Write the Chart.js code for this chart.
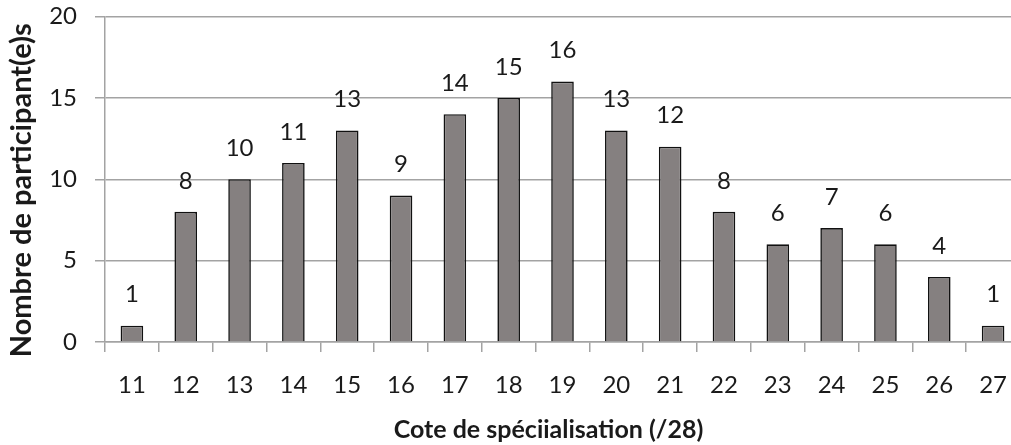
<!DOCTYPE html>
<html>
<head>
<meta charset="utf-8">
<script src="https://cdn.jsdelivr.net/npm/chart.js@4"></script>
<style>
  html, body { margin: 0; padding: 0; background: #fff; overflow: hidden; }
  #wrap { width: 1025px; height: 445px; }
</style>
</head>
<body>
<div id="wrap"><canvas id="c" width="1025" height="445"></canvas></div>
<script>
// Scores (x categories) and number of participants per score
const categories = ['11','12','13','14','15','16','17','18','19','20','21','22','23','24','25','26','27'];
const participants = [1, 8, 10, 11, 13, 9, 14, 15, 16, 13, 12, 8, 6, 7, 6, 4, 1];
const yTicks = [0, 5, 10, 15, 20];
const xTitle = 'Cote de spéciialisation (/28)';
const yTitle = 'Nombre de participant(e)s';

const FONT = 'Lato, "Open Sans", sans-serif';
const TEXT = '#1a1a1a';
const GRID = '#a3a3a3';

// Writes each bar's value above it
const valueLabels = {
  id: 'valueLabels',
  afterDatasetsDraw(chart) {
    const ctx = chart.ctx;
    const meta = chart.getDatasetMeta(0);
    const data = chart.data.datasets[0].data;
    ctx.save();
    ctx.font = '24px ' + FONT;
    ctx.fillStyle = TEXT;
    ctx.textAlign = 'center';
    ctx.textBaseline = 'middle';
    meta.data.forEach((bar, i) => {
      ctx.fillText(String(data[i]), bar.x, bar.y - 31);
    });
    ctx.restore();
  }
};

// Axis titles: rotated y title at the left edge, x title under the tick labels
const axisTitles = {
  id: 'axisTitles',
  afterDraw(chart) {
    const ctx = chart.ctx;
    const area = chart.chartArea;
    ctx.save();
    ctx.fillStyle = TEXT;
    ctx.textAlign = 'center';

    ctx.font = 'bold 25px ' + FONT;
    ctx.textBaseline = 'alphabetic';
    ctx.fillText(xTitle, (area.left + area.right) / 2 - 14, 438);

    ctx.translate(22, (area.top + area.bottom) / 2 + 11);
    ctx.rotate(-Math.PI / 2);
    ctx.font = 'bold 29px ' + FONT;
    ctx.textBaseline = 'middle';
    ctx.fillText(yTitle, 0, 0);
    ctx.restore();
  }
};

new Chart(document.getElementById('c'), {
  type: 'bar',
  data: {
    labels: categories,
    datasets: [{
      data: participants,
      backgroundColor: '#858080',
      borderColor: '#111111',
      borderWidth: 1.6,
      borderSkipped: 'bottom',
      categoryPercentage: 1,
      barPercentage: 0.42
    }]
  },
  options: {
    responsive: false,
    animation: false,
    layout: { autoPadding: false, padding: { top: 16.5, right: 5, left: 0, bottom: 0 } },
    plugins: {
      legend: { display: false },
      tooltip: { enabled: false }
    },
    scales: {
      x: {
        grid: {
          display: true,
          offset: true,
          drawOnChartArea: false,
          drawTicks: true,
          tickLength: 10,
          color: GRID,
          lineWidth: 1.5
        },
        border: { display: true, color: GRID, width: 1.5 },
        ticks: { font: { size: 24, family: FONT }, color: TEXT, padding: 19 },
        title: { display: false },
        afterFit(scale) {
          scale.height = 103;
          scale.paddingLeft = 0;
          scale.paddingRight = 0;
        }
      },
      y: {
        min: 0,
        max: 20,
        afterBuildTicks(scale) { scale.ticks = yTicks.map(v => ({ value: v })); },
        grid: {
          color: GRID,
          lineWidth: 1.5,
          drawTicks: true,
          tickLength: 10
        },
        border: { display: true, color: GRID, width: 1.5 },
        ticks: { font: { size: 24, family: FONT }, color: TEXT, padding: 18 },
        title: { display: false },
        afterFit(scale) {
          scale.width = 105;
          scale.paddingTop = 0;
          scale.paddingBottom = 0;
        }
      }
    }
  },
  plugins: [valueLabels, axisTitles]
});
</script>
</body>
</html>
